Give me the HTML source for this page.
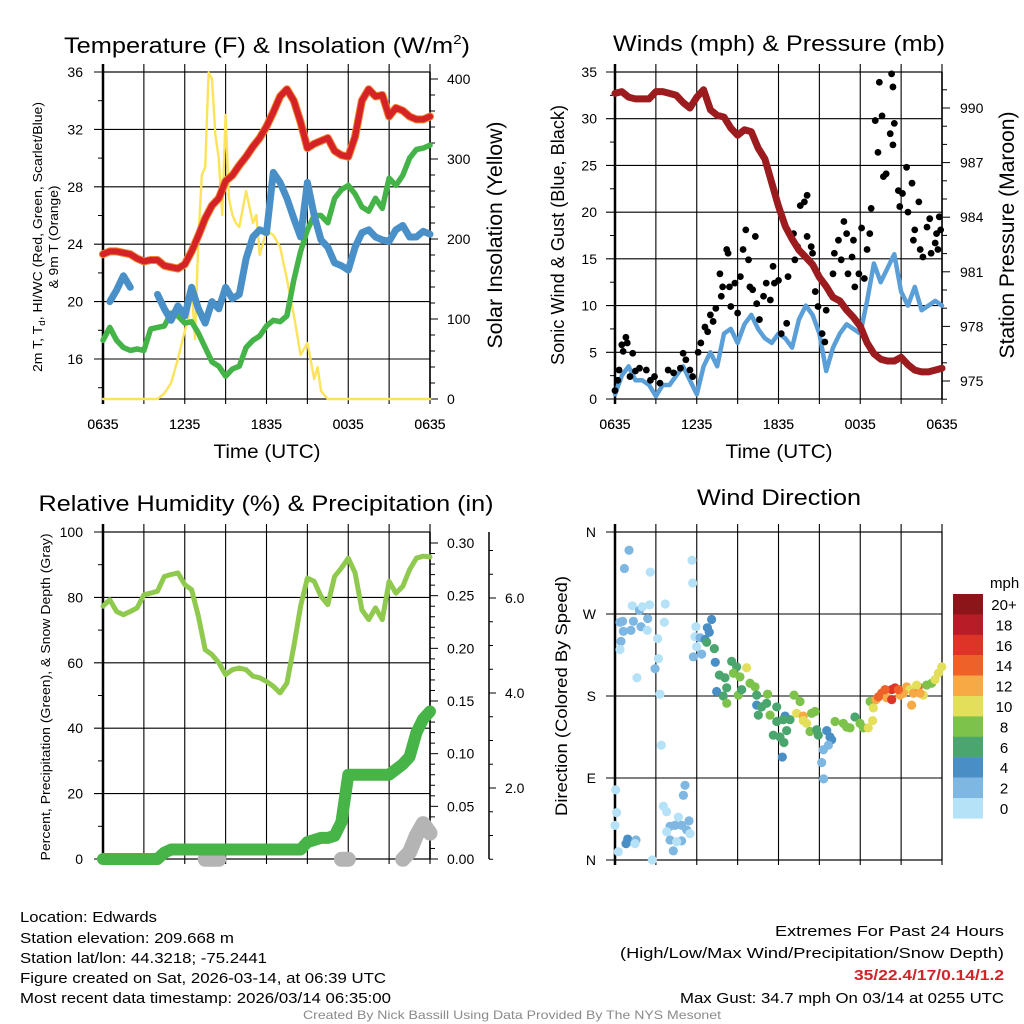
<!DOCTYPE html>
<html><head><meta charset="utf-8"><title>Edwards Mesonet Meteogram</title>
<style>
html,body{margin:0;padding:0;background:#fff;}
svg{display:block;font-family:"Liberation Sans",Arial,sans-serif;}
</style></head>
<body>
<svg id="chart" width="1024" height="1024" viewBox="0 0 1024 1024" xmlns="http://www.w3.org/2000/svg">
<rect width="1024" height="1024" fill="#fff"/>
<text x="267" y="53" font-size="22" text-anchor="middle" textLength="406" lengthAdjust="spacingAndGlyphs">Temperature (F) &amp; Insolation (W/m<tspan font-size="13" dy="-9">2</tspan><tspan dy="9">)</tspan></text>
<text x="779" y="51" font-size="22" text-anchor="middle" textLength="332" lengthAdjust="spacingAndGlyphs">Winds (mph) &amp; Pressure (mb)</text>
<text x="266" y="511" font-size="22" text-anchor="middle" textLength="455" lengthAdjust="spacingAndGlyphs">Relative Humidity (%) &amp; Precipitation (in)</text>
<text x="779" y="505" font-size="22" text-anchor="middle" textLength="164" lengthAdjust="spacingAndGlyphs">Wind Direction</text>
<text x="267" y="458" font-size="19" text-anchor="middle" textLength="107" lengthAdjust="spacingAndGlyphs">Time (UTC)</text>
<text x="779" y="458" font-size="19" text-anchor="middle" textLength="107" lengthAdjust="spacingAndGlyphs">Time (UTC)</text>
<text transform="translate(42,237) rotate(-90)" font-size="13" text-anchor="middle" textLength="270" lengthAdjust="spacingAndGlyphs">2m T, T<tspan font-size="9" dy="3">d</tspan><tspan dy="-3">, HI/WC (Red, Green, Scarlet/Blue)</tspan></text>
<text transform="translate(58,237) rotate(-90)" font-size="13" text-anchor="middle" textLength="103" lengthAdjust="spacingAndGlyphs">&amp; 9m T (Orange)</text>
<text transform="translate(502,235) rotate(-90)" font-size="21" text-anchor="middle" textLength="227" lengthAdjust="spacingAndGlyphs">Solar Insolation (Yellow)</text>
<text transform="translate(564,235) rotate(-90)" font-size="18" text-anchor="middle" textLength="260" lengthAdjust="spacingAndGlyphs">Sonic Wind &amp; Gust (Blue, Black)</text>
<text transform="translate(1014,235) rotate(-90)" font-size="21" text-anchor="middle" textLength="247" lengthAdjust="spacingAndGlyphs">Station Pressure (Maroon)</text>
<text transform="translate(50,697) rotate(-90)" font-size="13" text-anchor="middle" textLength="327" lengthAdjust="spacingAndGlyphs">Percent, Precipitation (Green), &amp; Snow Depth (Gray)</text>
<text transform="translate(567,696) rotate(-90)" font-size="17" text-anchor="middle" textLength="240" lengthAdjust="spacingAndGlyphs">Direction (Colored By Speed)</text>
<g font-size="15">
<text x="20" y="922" textLength="137" lengthAdjust="spacingAndGlyphs">Location: Edwards</text>
<text x="20" y="943" textLength="214" lengthAdjust="spacingAndGlyphs">Station elevation: 209.668 m</text>
<text x="20" y="963" textLength="247" lengthAdjust="spacingAndGlyphs">Station lat/lon: 44.3218; -75.2441</text>
<text x="20" y="983" textLength="366" lengthAdjust="spacingAndGlyphs">Figure created on Sat, 2026-03-14, at 06:39 UTC</text>
<text x="20" y="1003" textLength="371" lengthAdjust="spacingAndGlyphs">Most recent data timestamp: 2026/03/14 06:35:00</text>
</g>
<g font-size="15" text-anchor="end">
<text x="1004" y="936" textLength="229" lengthAdjust="spacingAndGlyphs">Extremes For Past 24 Hours</text>
<text x="1004" y="958" textLength="384" lengthAdjust="spacingAndGlyphs">(High/Low/Max Wind/Precipitation/Snow Depth)</text>
<text x="1004" y="980" fill="#d0232a" font-weight="bold" textLength="150" lengthAdjust="spacingAndGlyphs">35/22.4/17/0.14/1.2</text>
<text x="1004" y="1003" textLength="324" lengthAdjust="spacingAndGlyphs">Max Gust: 34.7 mph On 03/14 at 0255 UTC</text>
</g>
<text x="512" y="1019" font-size="12" fill="#8a8a8a" text-anchor="middle" textLength="418" lengthAdjust="spacingAndGlyphs">Created By Nick Bassill Using Data Provided By The NYS Mesonet</text>
</svg>
<script>
// ---------- data ----------
const hours = Array.from({length:49},(_,i)=>i*0.5);
const timeTickLabels = ["0635","1235","1835","0035","0635"];
const tempTicks = [16,20,24,28,32,36];
const solarTicks = [0,100,200,300,400];
const windTicks = [0,5,10,15,20,25,30,35];
const pressTicks = [975,978,981,984,987,990];
const rhTicks = [0,20,40,60,80,100];
const precipTicks = ["0.00","0.05","0.10","0.15","0.20","0.25","0.30"];
const snowTicks = ["2.0","4.0","6.0"];
const dirTicks = ["N","E","S","W","N"];

const tempF = [23.3,23.5,23.5,23.4,23.3,23.0,22.8,22.9,22.9,22.5,22.4,22.3,22.6,23.5,24.6,25.8,26.7,27.2,28.4,28.8,29.5,30.1,30.8,31.4,32.2,33.2,34.3,34.8,34.0,32.5,30.7,31.0,31.2,31.4,30.5,30.2,30.1,31.5,34.0,34.8,34.3,34.4,32.9,33.5,33.3,32.9,32.7,32.7,32.9];
const dewF = [17.3,18.2,17.3,16.8,16.6,16.7,16.6,18.1,18.2,18.3,19.2,19.0,18.5,18.6,17.8,16.8,15.8,15.5,14.8,15.3,15.5,16.8,17.3,17.6,18.3,18.7,18.6,19.0,21.5,23.5,25.0,26.0,26.0,25.5,27.2,27.8,28.1,27.5,26.6,26.3,27.2,26.5,28.6,28.1,28.8,30.0,30.6,30.7,30.9];
const windChillF = [null,20.0,20.8,21.8,21.0,null,null,null,20.5,19.5,18.7,19.7,19.0,21.0,19.5,18.5,20.0,19.5,21.0,20.2,20.5,23.0,24.5,25.0,24.8,29.0,28.3,27.2,25.8,24.5,28.3,26.0,24.3,23.8,22.7,22.5,22.2,23.8,24.8,25.0,24.5,24.3,24.2,25.0,25.3,24.5,24.5,24.9,24.7];
const solarHours = [0,4,4.5,5,5.5,6,6.25,6.5,6.75,7,7.25,7.5,7.75,8,8.25,8.5,8.75,9,9.25,9.5,9.75,10,10.5,11,11.25,11.5,12,12.5,13,13.5,14,14.5,15,15.5,15.75,16,16.5,24];
const solarW = [0,0,7,20,50,85,100,140,75,200,280,290,408,400,330,300,230,355,250,230,220,215,260,220,230,180,210,205,190,150,105,55,70,25,40,10,0,0];

const windMph = [0.5,2.5,3.5,2.0,2.0,1.5,0.3,1.5,1.5,2.5,3.5,2.0,0.5,3.5,5.0,3.5,7.0,7.5,6.0,8.0,9.0,7.5,6.5,6.0,7.0,6.5,5.5,8.5,10.0,9.0,7.0,3.0,5.5,7.0,8.0,7.5,7.0,10.5,14.5,12.5,14.0,15.5,11.5,10.0,12.0,9.5,10.0,10.5,10.0];
const pressureMb = [990.8,990.9,990.6,990.5,990.5,990.5,990.9,990.9,990.8,990.7,990.3,990.0,990.6,991.0,989.9,989.6,989.5,988.9,988.5,988.8,988.7,987.8,987.2,985.9,984.6,983.5,982.8,982.2,981.8,981.4,980.7,980.2,979.6,979.4,978.9,978.5,978.0,977.1,976.5,976.2,976.1,976.1,976.3,975.9,975.6,975.5,975.5,975.6,975.7];
const gustHours = [0,0.2,0.3,0.5,0.6,0.8,0.9,1.1,1.3,1.8,2.3,2.9,3.3,3.9,4.3,5.0,5.2,5.5,5.7,6.3,6.6,6.8,7.0,7.2,7.4,7.7,7.8,7.9,8.2,8.3,8.4,8.5,8.8,9.0,9.2,9.4,9.6,9.8,9.9,10.1,10.3,10.4,10.6,10.9,11.1,11.4,11.6,11.7,12.0,12.2,12.6,12.7,13.1,13.2,13.4,13.6,13.9,14.1,14.1,14.2,14.4,14.5,14.7,14.9,15.2,15.4,15.5,15.8,16.0,16.1,16.4,16.6,16.8,17.0,17.1,17.4,17.5,17.6,17.9,18.1,18.3,18.5,18.7,18.8,19.1,19.3,19.4,19.6,19.7,19.9,20.2,20.3,20.4,20.5,20.4,20.8,20.9,21.1,21.4,21.5,21.8,21.9,22.0,22.3,22.4,22.6,22.9,23.1,23.2,23.5,23.6,23.7,23.8,23.9,1.5,2.6,4.8,6.1];
const gustMph = [0.9,2.0,3.1,5.8,5.1,6.6,6.0,2.4,4.9,3.3,3.1,2.4,1.7,3.1,2.8,4.9,4.2,3.1,2.4,6.0,7.7,7.2,9.0,8.3,9.7,13.4,11.0,12.0,16.0,15.6,12.0,9.9,12.4,9.2,13.1,16.0,18.1,14.9,12.0,11.7,17.4,10.2,8.5,11.0,12.4,10.6,14.2,12.4,12.7,7.0,8.1,13.1,17.7,14.9,16.3,20.7,21.1,21.8,17.4,14.9,16.3,15.6,11.5,9.9,7.0,6.1,9.5,11.3,13.4,15.6,17.0,14.9,19.0,17.7,13.4,15.2,17.0,12.0,13.4,18.3,12.9,16.0,17.7,20.4,29.8,26.4,33.9,30.3,23.8,24.1,28.4,34.8,33.4,29.5,27.2,22.3,20.6,22.0,24.8,20.0,23.1,17.0,18.1,21.1,16.0,15.2,18.4,19.3,15.6,16.7,17.7,16.0,19.5,18.1,3.0,2.0,3.3,5.0];

const rhPct = [77.3,79.3,75.7,74.7,75.7,76.8,80.8,81.3,81.9,86.4,87.0,87.5,83.9,82.4,74.2,64.0,62.5,60.0,56.4,57.9,58.4,57.9,55.9,55.4,54.3,52.8,50.8,53.8,65.0,77.3,85.9,84.9,80.3,77.8,86.4,89.0,92.0,87.5,76.2,73.2,76.8,73.2,84.9,81.3,83.4,88.5,92.0,92.6,92.4];
const precipIn = [0,0,0,0,0,0,0,0,0,0.006,0.009,0.009,0.009,0.009,0.009,0.009,0.009,0.009,0.009,0.009,0.009,0.009,0.009,0.009,0.009,0.009,0.009,0.009,0.009,0.009,0.016,0.018,0.02,0.02,0.022,0.035,0.08,0.08,0.08,0.08,0.08,0.08,0.08,0.085,0.09,0.097,0.12,0.133,0.14];
const snowIn = [null,null,null,null,null,null,null,null,null,null,null,null,null,null,null,0.5,0.5,0.5,null,null,null,null,null,null,null,null,null,null,null,null,null,null,null,null,null,0.5,0.5,null,null,null,null,null,null,null,0.5,0.65,1.0,1.25,1.05];

const dirHours = [1.03,0.69,2.59,5.65,5.70,1.27,1.79,2.01,2.54,3.69,0.37,0.56,1.35,2.40,0.61,1.17,1.91,2.37,0.44,0.37,3.62,3.13,1.61,2.94,3.18,3.30,3.40,7.09,6.78,6.92,5.94,5.87,6.24,6.61,6.73,5.99,6.36,5.75,7.29,7.36,8.56,8.93,9.66,7.66,8.07,8.69,9.17,9.91,10.28,8.20,9.05,7.46,7.95,8.20,9.30,10.40,11.20,10.40,10.76,11.13,10.52,11.38,11.87,12.48,11.87,12.35,12.84,11.62,12.11,12.60,12.40,12.28,13.14,13.58,13.33,13.82,13.82,14.07,14.43,14.68,14.31,14.80,14.92,15.54,15.78,15.90,15.66,15.29,15.17,15.31,16.15,16.76,17.00,17.25,17.61,17.98,18.23,18.59,18.72,18.96,18.91,19.16,19.57,19.94,20.31,20.55,20.31,20.92,21.41,21.65,21.90,22.26,22.63,21.77,22.39,22.87,23.24,23.49,23.73,23.98,22.14,21.16,20.80,19.82,19.33,0.05,0.12,0.0,0.24,0.93,0.81,1.54,1.47,2.74,5.14,5.02,3.55,3.79,4.65,4.04,3.79,4.40,4.89,5.43,5.26,5.50,4.89,4.28,4.04,4.53];
const dirDeg = [340,320,316,329,304,279,274,278,280,281,261,262,262,265,251,252,256,252,240,231,261,243,200,210,221,182,126,264,255,250,256,245,244,242,239,234,226,223,232,217,218,212,211,203,200,205,201,194,190,189,181,185,180,172,187,181,182,170,168,172,159,159,168,158,152,154,154,137,135,142,129,113,181,174,161,158,153,150,161,163,141,143,137,142,135,132,126,121,107,89,152,150,146,145,157,150,145,145,174,167,153,176,183,178,187,189,176,181,190,187,183,190,181,170,183,192,194,198,205,212,192,183,187,187,179,77,52,38,9,23,18,22,18,0,82,71,59,53,47,37,31,38,38,43,33,29,21,10,22,20];
const dirSpeed = [3,3,1,1,1,1,3,1,1,1,3,3,3,3,3,3,3,1,3,1,1,1,1,3,1,1,1,5,5,5,1,1,3,5,7,1,3,3,7,5,7,7,11,7,7,9,9,9,9,7,9,5,7,9,7,7,9,5,7,7,7,9,7,5,7,7,7,7,7,7,7,5,9,9,11,13,11,11,9,9,9,7,7,5,5,5,3,3,3,3,9,9,9,9,7,9,9,11,9,11,11,13,15,13,17,17,17,13,13,11,13,15,11,13,13,9,9,11,11,11,11,13,15,15,15,1,1,1,1,5,5,3,1,1,3,3,1,1,1,3,1,3,3,3,3,1,3,3,3,1];
const speedBinLabels = ["0","2","4","6","8","10","12","14","16","18","20+"];
const speedBinColors = ["#b5e2f7","#7fb7e3","#4a8ec6","#4aa66e","#7dc24b","#e4df5a","#f6a945","#ee6129","#dd3427","#b81c26","#8c1519"];

// ---------- helpers ----------
const NS = "http://www.w3.org/2000/svg";
const svg = document.getElementById("chart");
function mk(tag, attrs, parent){
  const e = document.createElementNS(NS, tag);
  for (const k in attrs) e.setAttribute(k, attrs[k]);
  (parent || svg).appendChild(e);
  return e;
}
function pathFrom(xsArr, ysArr, sx, sy){
  let d = "", pen = false;
  for (let i=0;i<ysArr.length;i++){
    const v = ysArr[i];
    if (v === null || v === undefined){ pen = false; continue; }
    d += (pen ? "L" : "M") + sx(xsArr[i]).toFixed(1) + "," + sy(v).toFixed(1);
    pen = true;
  }
  return d;
}

const L = 103, R = 430, L2 = 615, R2 = 942;
const X1 = h => L + h*(R-L)/24;
const X2 = h => L2 + h*(R2-L2)/24;
const YT = v => 72 + (36 - v)*14.35;
const YS = w => 399 - w*0.8;
const YW = v => 399 - v*327/35;
const YP = p => 108 + (990 - p)*18.2;
const YR = v => 859 - v*3.27;
const YPr = p => 859 - p*1053.3;
const YSn = s => 883 - s*47.5;
const YD = d => 860 - d*328/360;

function grid(x0, x1, y0, y1, hLines, name){
  const g = mk("g", {stroke:"#000","stroke-width":1.1, fill:"none"});
  
  
  for (let k=0;k<=8;k++){
    const x = x0 + k*(x1-x0)/8;
    mk("line",{x1:x,y1:y0-8,x2:x,y2:y1+5},g);
  }
  hLines.forEach(y => mk("line",{x1:x0-9,y1:y,x2:x1,y2:y},g));
  const fr = mk("rect",{x:x0,y:y0,width:x1-x0,height:y1-y0,stroke:"#000","stroke-width":1.2,fill:"none"});
  
  
  mk("line",{x1:x0,y1:y0-8,x2:x0,y2:y1+5,stroke:"#000","stroke-width":2.5});
}
function xLabels(x0, x1, name){
  const g = mk("g",{"font-size":14,"text-anchor":"middle"});
  
  
  timeTickLabels.forEach((t,i)=>{
    const tx = mk("text",{x:x0 + i*(x1-x0)/4, y:429},g);
    tx.textContent = t;
  });
}
function text(x,y,s,attrs,name){
  const t = mk("text", Object.assign({x:x,y:y,"font-size":14}, attrs||{}));
  t.textContent = s;
  
  
  return t;
}
function minorTicks(x, vals, sy, len, dir){
  vals.forEach(v => mk("line",{x1:x,y1:sy(v),x2:x+dir*len,y2:sy(v),stroke:"#000","stroke-width":1}));
}

// Panel 1
grid(L, R, 72, 399, tempTicks.map(YT), "temperature-panel");
tempTicks.forEach(v => text(83, YT(v)+5, String(v), {"text-anchor":"end"}, "temp-tick-" + v));
minorTicks(L, [14,18,22,26,30,34], YT, -5, 1);
mk("line",{x1:R,y1:72,x2:R,y2:399,stroke:"#000","stroke-width":1.5});
solarTicks.forEach(v => { mk("line",{x1:R,y1:YS(v),x2:R+8,y2:YS(v),stroke:"#000"}); text(447, YS(v)+5, String(v), {}, "solar-tick-" + v); });
for (let w=20; w<=400; w+=20) if (w%100) mk("line",{x1:R,y1:YS(w),x2:R+5,y2:YS(w),stroke:"#000"});
xLabels(L, R, "temperature");

const p1 = mk("g",{fill:"none","stroke-linejoin":"round","stroke-linecap":"round"});


const solarLine = mk("path",{d:pathFrom(solarHours, solarW, X1, YS), stroke:"#fde35a","stroke-width":2.4},p1);


const dewLine = mk("path",{d:pathFrom(hours, dewF, X1, YT), stroke:"#45b448","stroke-width":5.5},p1);


const wcLine = mk("path",{d:pathFrom(hours, windChillF, X1, YT), stroke:"#4a90c8","stroke-width":7},p1);


const t9Line = mk("path",{d:pathFrom(hours, tempF, X1, YT), stroke:"#f08330","stroke-width":8},p1);


const tLine = mk("path",{d:pathFrom(hours, tempF, X1, YT), stroke:"#d42226","stroke-width":6},p1);



// Panel 2
grid(L2, R2, 72, 399, windTicks.map(YW), "wind-panel");
windTicks.forEach(v => text(597, YW(v)+5, String(v), {"text-anchor":"end"}, "wind-tick-" + v));
minorTicks(L2, [2.5,7.5,12.5,17.5,22.5,27.5,32.5], YW, -5, 1);
mk("line",{x1:R2,y1:72,x2:R2,y2:399,stroke:"#000","stroke-width":1.5});
pressTicks.forEach(v => { mk("line",{x1:R2,y1:YP(v),x2:R2+8,y2:YP(v),stroke:"#000"}); text(960, YP(v)+5, String(v), {}, "pressure-tick-" + v); });
for (let p=974; p<=991.5; p+=1) if ((p-975)%3) mk("line",{x1:R2,y1:YP(p),x2:R2+5,y2:YP(p),stroke:"#000"});
xLabels(L2, R2, "wind");

const p2 = mk("g",{fill:"none","stroke-linejoin":"round","stroke-linecap":"round"});


const wLine = mk("path",{d:pathFrom(hours, windMph, X2, YW), stroke:"#5a9fd8","stroke-width":4.5},p2);


const gustG = mk("g",{fill:"#000"},p2);


gustHours.forEach((h,i)=>{
  const c = mk("circle",{cx:X2(h),cy:YW(gustMph[i]),r:3.4},gustG);
  
  
});
const pLine = mk("path",{d:pathFrom(hours, pressureMb, X2, YP), stroke:"#9b1b1e","stroke-width":7},p2);



// Panel 3
grid(L, R, 532, 859, rhTicks.map(YR), "humidity-panel");
rhTicks.forEach(v => text(83, YR(v)+5, String(v), {"text-anchor":"end"}, "rh-tick-" + v));
minorTicks(L, [10,30,50,70,90], YR, -5, 1);
mk("line",{x1:R,y1:532,x2:R,y2:859,stroke:"#000","stroke-width":1.5});
precipTicks.forEach(s => { const v = parseFloat(s); mk("line",{x1:R,y1:YPr(v),x2:R+8,y2:YPr(v),stroke:"#000"}); text(447, YPr(v)+5, s, {}, "precip-tick-" + s); });
for (let k=1;k<=30;k++) if (k%5) mk("line",{x1:R,y1:YPr(k/100),x2:R+5,y2:YPr(k/100),stroke:"#000"});
const snowAxis = mk("line",{x1:489,y1:532,x2:489,y2:859,stroke:"#000","stroke-width":1.5});


for (let s=0.5; s<=7.2; s+=0.5) mk("line",{x1:489,y1:YSn(s),x2:489+(s%2===0?7:4),y2:YSn(s),stroke:"#000"});
snowTicks.forEach(s => text(505, YSn(parseFloat(s))+5, s, {}, "snow-tick-" + s));
xLabels(L, R, "humidity");

const p3 = mk("g",{fill:"none","stroke-linejoin":"round","stroke-linecap":"round"});


const snowLine = mk("path",{d:pathFrom(hours, snowIn, X1, YSn), stroke:"#b4b4b4","stroke-width":15},p3);


const prLine = mk("path",{d:pathFrom(hours, precipIn, X1, YPr), stroke:"#46b446","stroke-width":12},p3);


const rhLine = mk("path",{d:pathFrom(hours, rhPct, X1, YR), stroke:"#8fca4f","stroke-width":5},p3);



// Panel 4
grid(L2, R2, 532, 860, [0,90,180,270,360].map(YD), "direction-panel");
dirTicks.forEach((s,i) => text(596, YD(i*90)+5, s, {"text-anchor":"end"}, "direction-tick-" + i));
xLabels(L2, R2, "direction");
const p4 = mk("g",{});


dirHours.forEach((h,i)=>{
  const bin = Math.min(10, Math.floor(dirSpeed[i]/2));
  const c = mk("circle",{cx:X2(h),cy:YD(dirDeg[i]),r:4.6,fill:speedBinColors[bin]},p4);
  
  
});
const cb = mk("g",{});


text(990, 588, "mph", {"font-size":15}, "colorbar-title");
speedBinColors.slice().reverse().forEach((col,k)=>{
  const y = 594 + k*20.4;
  const r = mk("rect",{x:953,y:y,width:30,height:20.6,fill:col},cb);
  
  
  const lab = speedBinLabels[10-k];
  text(1004, y+16, lab, {"font-size":15,"text-anchor":"middle"}, "colorbar-label");
});
</script>
</body></html>
